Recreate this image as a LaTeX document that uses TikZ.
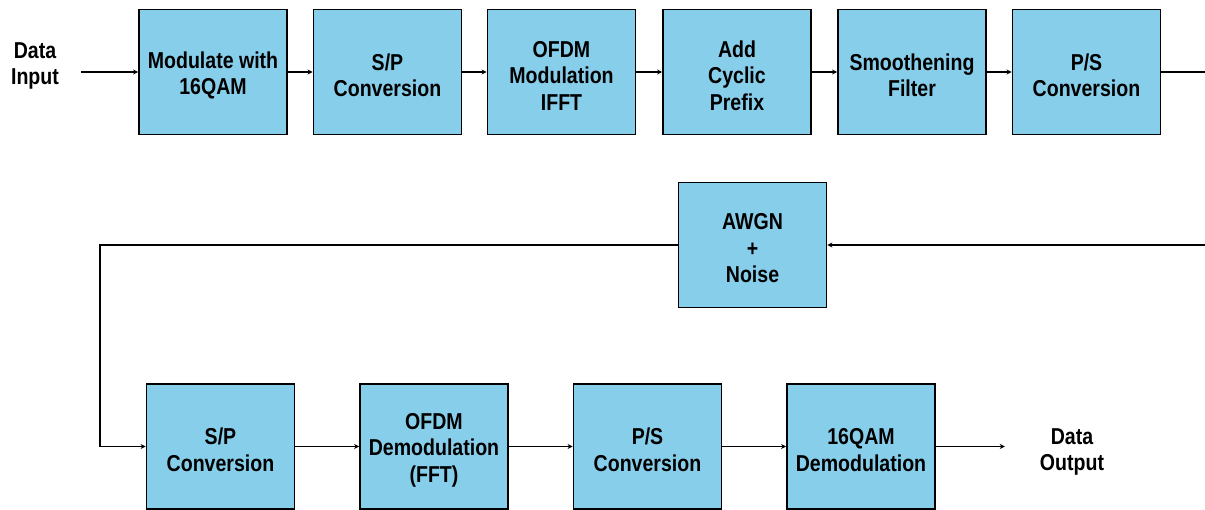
\documentclass[tikz,border=0pt]{standalone}
\usepackage{fontspec}
\setmainfont{Liberation Sans}[FakeStretch=0.85]
\usetikzlibrary{arrows.meta}
\definecolor{boxblue}{HTML}{87CEEB}
\tikzset{
  blk/.style={draw=black, line width=1.8pt, fill=boxblue, minimum width=148pt, minimum height=125pt, inner sep=0pt},
  lbl/.style={align=center, inner sep=0pt, font=\fontsize{23}{26.5}\selectfont\bfseries},
  inlbl/.style={lbl, yshift=-3.5pt},
  wire/.style={line width=1.4pt, draw=black},
  arr/.style={wire, -{Stealth[length=5pt,width=5pt]}}
}
\begin{document}
\begin{tikzpicture}[x=1pt,y=-1pt]
\clip (0,0) rectangle (1205,509);
\fill[white] (0,0) rectangle (1205,509);
% top row
\node[lbl, inner xsep=22pt] (din) at (35,66) {Data\\Input};
\node[blk, label={[inlbl]center:{Modulate with\\16QAM}}] (b1) at (213,72) {};
\node[blk, label={[inlbl]center:{S/P\\Conversion}}] (b2) at (387.5,72) {};
\node[blk, label={[inlbl]center:{OFDM\\Modulation\\IFFT}}] (b3) at (561.5,72) {};
\node[blk, label={[inlbl]center:{Add\\Cyclic\\Prefix}}] (b4) at (737,72) {};
\node[blk, label={[inlbl]center:{Smoothening\\Filter}}] (b5) at (912,72) {};
\node[blk, label={[inlbl]center:{P/S\\Conversion}}] (b6) at (1086.5,72) {};
\coordinate (tr) at (1210,72);
% channel
\node[blk, label={[inlbl]center:{AWGN\\+\\Noise}}] (awgn) at (752.5,245) {};
\coordinate (cr) at (1210,245);
\coordinate (cl) at (100,245);
% bottom row
\node[blk, label={[inlbl]center:{S/P\\Conversion}}] (c1) at (220.5,446.5) {};
\node[blk, label={[inlbl]center:{OFDM\\Demodulation\\(FFT)}}] (c2) at (434,446.5) {};
\node[blk, label={[inlbl]center:{P/S\\Conversion}}] (c3) at (647.5,446.5) {};
\node[blk, label={[inlbl]center:{16QAM\\Demodulation}}] (c4) at (861,446.5) {};
\node[lbl, inner xsep=35pt] (dout) at (1072,452) {Data\\Output};
% connectors
\draw[arr] (din.east |- b1) -- (b1.west);
\draw[arr] (b1) -- (b2);
\draw[arr] (b2) -- (b3);
\draw[arr] (b3) -- (b4);
\draw[arr] (b4) -- (b5);
\draw[arr] (b5) -- (b6);
\draw[wire] (b6.east) -- (tr);
\draw[arr] (cr) -- (awgn.east);
\draw[arr] (awgn.west) -- (cl) |- (c1.west);
\draw[arr] (c1) -- (c2);
\draw[arr] (c2) -- (c3);
\draw[arr] (c3) -- (c4);
\draw[arr] (c4.east) -- (dout.west |- c4.east);
\end{tikzpicture}
\end{document}
